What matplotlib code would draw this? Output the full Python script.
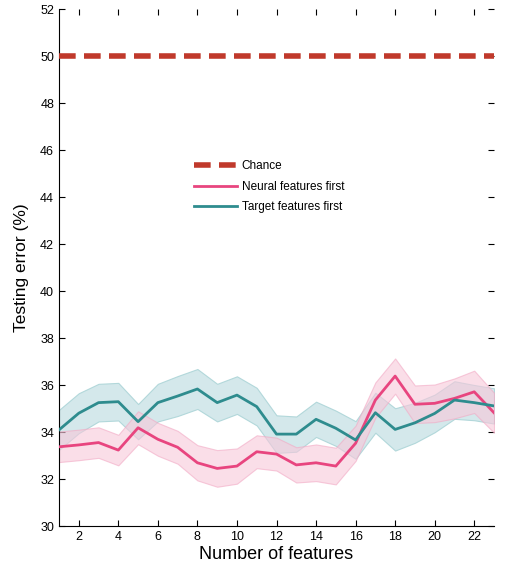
import matplotlib
matplotlib.use("Agg")
import matplotlib.pyplot as plt
import numpy as np

n_features = list(range(1, 24))
neural_mean = [33.37, 33.45, 33.55, 33.23, 34.18, 33.69, 33.35, 32.69, 32.45, 32.55, 33.16, 33.06, 32.6,
               32.69, 32.55, 33.52, 35.36, 36.38, 35.18, 35.22, 35.43, 35.71, 34.82]
neural_err = [0.65, 0.65, 0.65, 0.65, 0.7, 0.7, 0.7, 0.75, 0.78, 0.75, 0.7, 0.7, 0.75,
              0.78, 0.78, 0.75, 0.75, 0.75, 0.8, 0.8, 0.85, 0.9, 0.85]
target_mean = [34.09, 34.8, 35.25, 35.29, 34.44, 35.25, 35.53, 35.83, 35.25, 35.57, 35.08, 33.91, 33.91,
               34.54, 34.16, 33.66, 34.82, 34.11, 34.39, 34.79, 35.36, 35.25, 35.11]
target_err = [0.85, 0.85, 0.8, 0.8, 0.75, 0.8, 0.85, 0.85, 0.8, 0.8, 0.8, 0.8, 0.75,
              0.75, 0.75, 0.8, 0.85, 0.9, 0.85, 0.8, 0.8, 0.75, 0.75]
chance = 50.0

xticks = list(range(2, 23, 2))
yticks = list(range(30, 53, 2))

plt.rcParams['font.family'] = ['Liberation Sans', 'DejaVu Sans']

fig = plt.figure(figsize=(5.31, 5.72), dpi=100)
ax = fig.add_axes([59/531, 1-526/572, (494-59)/531, (526-9)/572])

x = np.array(n_features)
nm, ne = np.array(neural_mean), np.array(neural_err)
tm, te = np.array(target_mean), np.array(target_err)

pink = '#E8457F'
teal = '#2E8C8E'
ax.fill_between(x, tm - te, tm + te, facecolor='#CDE5E8', edgecolor='#A9D3D6', lw=0.8, alpha=0.85, zorder=1)
ax.fill_between(x, nm - ne, nm + ne, facecolor='#F8C8DA', edgecolor='#F2A9C4', lw=0.8, alpha=0.6, zorder=2)

ax.plot([1, 23], [chance, chance], color='#C0392B', lw=4, dashes=(3, 1.5), label='Chance', zorder=4)
ax.plot(x, nm, color=pink, lw=2, label='Neural features first', zorder=3)
ax.plot(x, tm, color=teal, lw=2, label='Target features first', zorder=3)

ax.set_xlim(1, 23)
ax.set_ylim(30, 52)
ax.set_xticks(xticks)
ax.set_yticks(yticks)
ax.tick_params(direction='in', length=4, labelsize=9, top=True, right=True, width=0.8)
ax.spines['top'].set_visible(False)
ax.spines['right'].set_visible(False)

ax.set_xlabel('Number of features', fontsize=13, labelpad=2)
ax.set_ylabel('Testing error (%)', fontsize=12.5, labelpad=8)

leg = ax.legend(loc='upper left', bbox_to_anchor=(0.286, 0.728), frameon=False, fontsize=8.5,
                handlelength=3.6, handletextpad=0.45, labelspacing=0.72)

fig.savefig('out.png', dpi=100)
